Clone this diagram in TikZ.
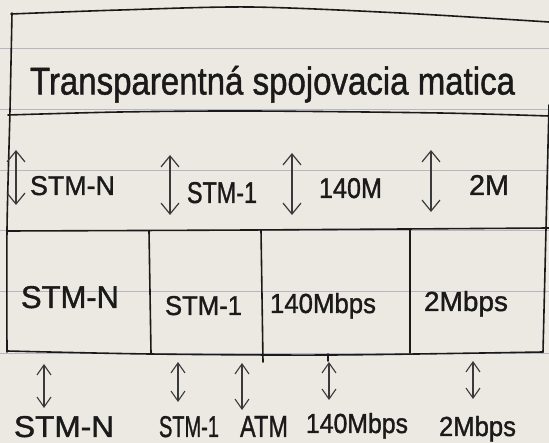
\documentclass[tikz,border=0pt]{standalone}
\usepackage{fontspec}
\setmainfont[FakeBold=1.3]{Liberation Sans}
\usetikzlibrary{arrows.meta}
\definecolor{paper}{RGB}{236,233,226}
\definecolor{ruleline}{RGB}{182,183,192}
\definecolor{ink}{RGB}{26,26,26}
\definecolor{pencil}{RGB}{58,58,60}
% text squeezed to a given width and cap height (in pt)
\newcommand{\hw}[3]{\resizebox{#1pt}{#2pt}{#3}}

\begin{document}
\begin{tikzpicture}[x=1pt,y=-1pt,
  frame/.style={draw=ink,line width=1.6pt,line cap=round,line join=round},
  ruled/.style={draw=ruleline,line width=0.8pt},
  lbl/.style={anchor=base west,inner sep=0pt,outer sep=0pt,text=ink},
  bigarrow/.style={draw=pencil,line width=1.2pt,
    {Straight Barb[length=11pt,width=18pt]}-{Straight Barb[length=11pt,width=18pt]}},
  smallarrow/.style={draw=pencil,line width=1.1pt,
    {Straight Barb[length=10pt,width=14pt]}-{Straight Barb[length=10pt,width=14pt]}}]

% sheet of ruled paper
\fill[paper] (0,0) rectangle (549,443);
\useasboundingbox (0,0) rectangle (549,443);
\foreach \y in {48,109,170,230,291,353} \draw[ruled] (0,\y) -- (549,\y);

% outer frame and row separators
\draw[frame] plot[smooth] coordinates {(11,14) (120,10) (250,7) (400,13) (549,22)};
\draw[frame] plot[smooth] coordinates {(12,13) (10,110) (7,230) (7,352)};
\draw[frame] plot[smooth] coordinates {(8,115) (120,112) (250,111) (440,113) (549,116)};
\draw[frame] plot[smooth] coordinates {(7,231) (250,230) (549,228)};
\draw[frame] plot[smooth] coordinates {(7,351) (150,354) (330,355) (543,352)};
\draw[frame] (549,105) -- (543,352);

% cell walls of the bottom row
\draw[frame] (149,231) -- (151,353);
\draw[frame] (261,230) -- (263,362);
\draw[frame] (410,229) -- (410,353);
\draw[frame] (328,354) -- (328,361);

% title
\node[lbl] (title) at (30,94.5) {\hw{485}{28.5}{Transparentná spojovacia matica}};

% middle row: interfaces of the matrix
\node[lbl] (mSTMN) at (30,195) {\hw{85}{19}{STM-N}};
\node[lbl] (mSTM1) at (187,203) {\hw{70}{21}{STM-1}};
\node[lbl] (m140)  at (319,198) {\hw{63}{20}{140M}};
\node[lbl] (m2)    at (469,195) {\hw{40}{20}{2M}};

\coordinate (ma1) at (16,150);  \coordinate (mb1) at (16,205);
\coordinate (ma2) at (170,155); \coordinate (mb2) at (170,215);
\coordinate (ma3) at (292,153); \coordinate (mb3) at (292,215);
\coordinate (ma4) at (431,150); \coordinate (mb4) at (431,212);
\foreach \i in {1,...,4} \draw[bigarrow] (ma\i) -- (mb\i);

% bottom row: cells
\node[lbl] (bSTMN) at (21,308)  {\hw{98}{22}{STM-N}};
\node[lbl] (bSTM1) at (165,315) {\hw{77}{19}{STM-1}};
\node[lbl] (b140)  at (270,313) {\hw{106}{20}{140Mbps}};
\node[lbl] (b2)    at (424,311) {\hw{84}{20}{2Mbps}};

% tributaries below the frame
\coordinate (la1) at (44,364);  \coordinate (lb1) at (44,408);
\coordinate (la2) at (178,362); \coordinate (lb2) at (178,402);
\coordinate (la3) at (242,363); \coordinate (lb3) at (242,410);
\coordinate (la4) at (329,362); \coordinate (lb4) at (329,400);
\coordinate (la5) at (473,361); \coordinate (lb5) at (473,399);
\foreach \i in {1,...,5} \draw[smallarrow] (la\i) -- (lb\i);

\node[lbl] (lSTMN) at (14,437)  {\hw{100}{21}{STM-N}};
\node[lbl] (lSTM1) at (159,437) {\hw{60}{21}{STM-1}};
\node[lbl] (lATM)  at (240,437) {\hw{48}{21}{ATM}};
\node[lbl] (l140)  at (306,433) {\hw{102}{20}{140Mbps}};
\node[lbl] (l2)    at (439,436) {\hw{77}{20}{2Mbps}};
\end{tikzpicture}
\end{document}
